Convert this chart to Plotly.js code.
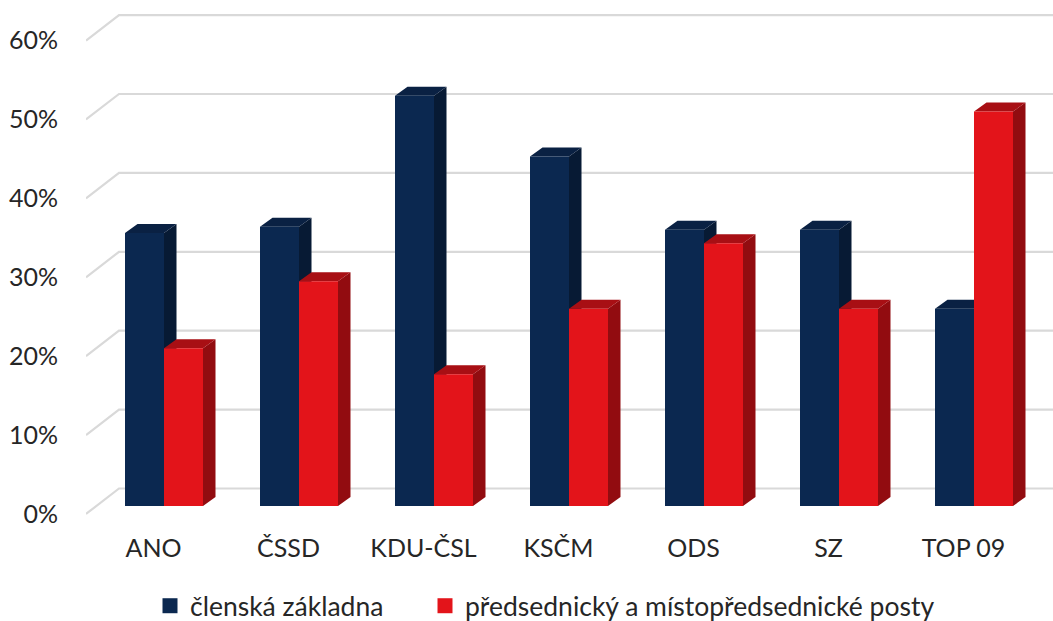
<!DOCTYPE html>
<html>
<head>
<meta charset="utf-8">
<script src="https://cdn.plot.ly/plotly-3.0.1.min.js"></script>
<style>html,body{margin:0;padding:0;background:#fff;}#chart{width:1053px;height:621px;}</style>
</head>
<body>
<div id="chart"></div>
<script>
// ---- data ----
const categories = ["ANO", "ČSSD", "KDU-ČSL", "KSČM", "ODS", "SZ", "TOP 09"];
const clenskaZakladna = [34.6, 35.4, 52.0, 44.3, 35.0, 35.0, 25.0];
const predsednickePosty = [20.0, 28.5, 16.7, 25.0, 33.3, 25.0, 50.0];
const seriesNames = ["členská základna", "předsednický a místopředsednické posty"];
const yTicks = [0, 10, 20, 30, 40, 50, 60];

// ---- 3D projection helpers (pixel offsets converted into axis units) ----
const PX_PER_CAT = 135;   // pixels per category on x axis
const PX_PER_PCT = 7.89;  // pixels per percent on y axis
const dX = px => px / PX_PER_CAT;
const dY = px => px / PX_PER_PCT;

const barW = dX(39);
const frontOff = {x: dX(10.5), y: dY(8)};   // front plane -> bar front face
const depth = {x: dX(12.5), y: dY(9)};      // bar depth
const wall = {x: dX(33), y: dY(25.5)};      // front plane -> back wall

const colors = {
  blue: {front: "#0B2850", top: "#0A2143", side: "#071A34"},
  red: {front: "#E3141A", top: "#A80F14", side: "#920C10"}
};

function polys(values, s) {
  const front = {x: [], y: []}, top = {x: [], y: []}, side = {x: [], y: []};
  values.forEach((v, i) => {
    const x0 = i + (s - 1) * barW + frontOff.x, x1 = x0 + barW;
    const b = frontOff.y, t = v + frontOff.y;
    front.x.push(x0, x1, x1, x0, x0, null); front.y.push(b, b, t, t, b, null);
    top.x.push(x0, x1, x1 + depth.x, x0 + depth.x, x0, null);
    top.y.push(t, t, t + depth.y, t + depth.y, t, null);
    side.x.push(x1, x1 + depth.x, x1 + depth.x, x1, x1, null);
    side.y.push(b, b + depth.y, t + depth.y, t, b, null);
  });
  return {front, top, side};
}

function faceTrace(p, color) {
  return {type: "scatter", mode: "lines", x: p.x, y: p.y, fill: "toself",
          fillcolor: color, line: {width: 0, color: color}, hoverinfo: "skip",
          showlegend: false, connectgaps: false};
}

// gridlines on back wall
const grid = {x: [], y: []};
yTicks.forEach(v => {
  grid.x.push(-0.5, -0.5 + wall.x, 8, null);
  grid.y.push(v, v + wall.y, v + wall.y, null);
});

const pb = polys(clenskaZakladna, 0);
const pr = polys(predsednickePosty, 1);

const traces = [
  {type: "scatter", mode: "lines", x: grid.x, y: grid.y, line: {color: "#D9D9D9", width: 2.2},
   hoverinfo: "skip", showlegend: false},
  faceTrace(pb.side, colors.blue.side), faceTrace(pb.top, colors.blue.top), faceTrace(pb.front, colors.blue.front),
  faceTrace(pr.side, colors.red.side), faceTrace(pr.top, colors.red.top), faceTrace(pr.front, colors.red.front),
  {type: "scatter", mode: "markers", x: [null], y: [null], name: seriesNames[0], legend: "legend",
   marker: {symbol: "square", size: 15, color: colors.blue.front}},
  {type: "scatter", mode: "markers", x: [null], y: [null], name: seriesNames[1], legend: "legend2",
   marker: {symbol: "square", size: 15, color: colors.red.front}}
];

const font = {family: "Lato, 'Open Sans', sans-serif", size: 25, color: "#262626"};
const legendFont = {family: font.family, size: 26.5, color: "#262626"};
const legendCommon = {orientation: "h", xref: "container", yref: "container", xanchor: "left",
                      yanchor: "middle", y: 1 - 606 / 621, font: legendFont, itemwidth: 30,
                      bgcolor: "rgba(0,0,0,0)"};

const layout = {
  width: 1053, height: 621,
  margin: {l: 86, r: 0, t: 0, b: 101},
  paper_bgcolor: "#fff", plot_bgcolor: "#fff",
  font: font,
  showlegend: true,
  legend: Object.assign({}, legendCommon, {x: 150 / 1053}),
  legend2: Object.assign({}, legendCommon, {x: 425 / 1053}),
  xaxis: {range: [-0.5, -0.5 + (1053 - 86) / PX_PER_CAT], tickmode: "array",
          tickvals: categories.map((c, i) => i), ticktext: categories,
          showgrid: false, zeroline: false, showline: false, ticks: "outside",
          ticklen: 6, tickcolor: "rgba(0,0,0,0)", fixedrange: true},
  yaxis: {range: [-(520 - 514) / PX_PER_PCT, 514 / PX_PER_PCT], tickmode: "array",
          tickvals: yTicks, ticktext: yTicks.map(v => v + "%"),
          showgrid: false, zeroline: false, showline: false, ticks: "outside",
          ticklen: 22, tickcolor: "rgba(0,0,0,0)", fixedrange: true}
};

Plotly.newPlot("chart", traces, layout, {staticPlot: true, displayModeBar: false});
</script>
</body>
</html>
